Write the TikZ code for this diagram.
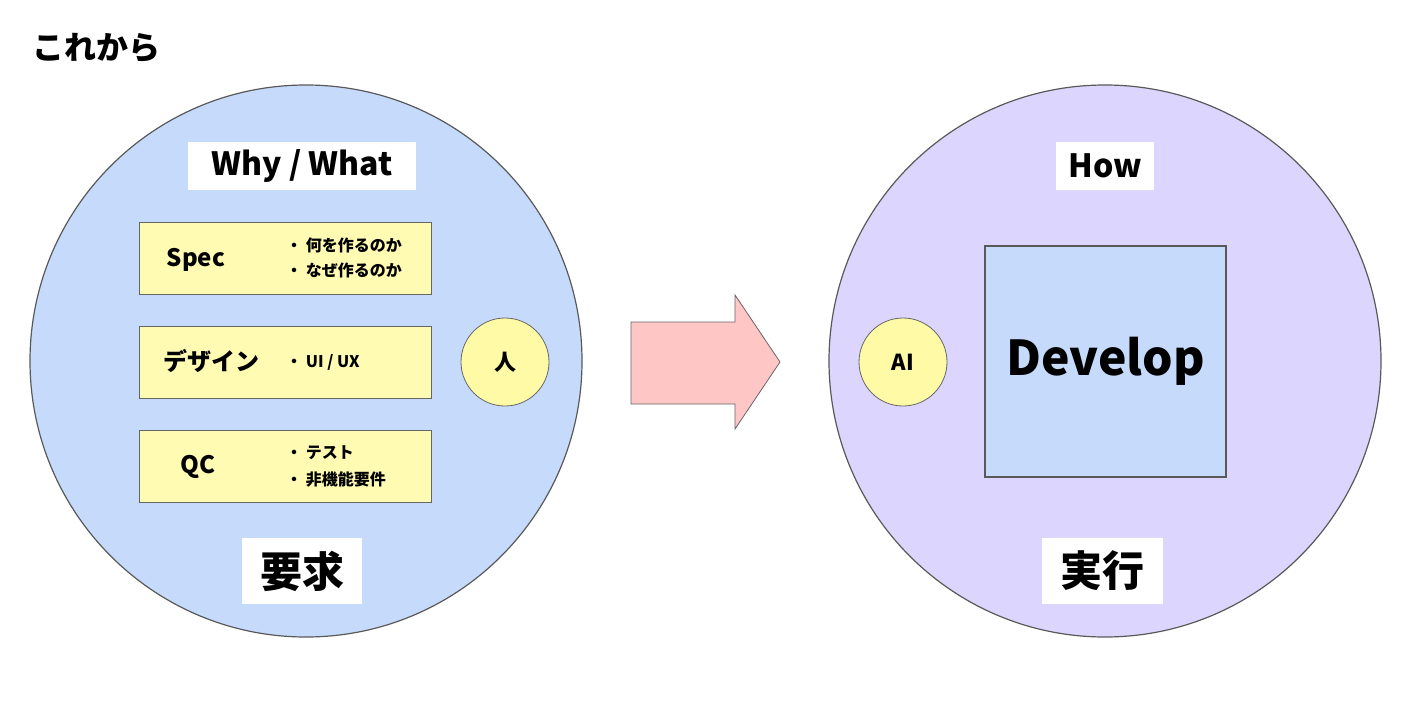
\documentclass[tikz,border=0pt]{standalone}
\usepackage{fontspec}
\setmainfont{Noto Sans CJK JP}
\begin{document}
\begin{tikzpicture}[x=1pt,y=-1pt,
  big/.style={circle,draw=black!65,line width=1.2pt,minimum size=552pt,inner sep=0},
  lbl/.style={fill=white,inner sep=0,font=\bfseries},
  ybox/.style={draw=black!60,fill=yellow!30!white,line width=0.8pt,minimum width=292pt,minimum height=72pt,inner sep=0},
  small/.style={circle,draw=black!60,fill=yellow!35!white,line width=0.8pt,minimum size=88pt,inner sep=0,font=\fontsize{22}{26}\bfseries\selectfont},
  bul/.style={anchor=west,font=\fontsize{16}{19}\bfseries\selectfont,inner sep=0}]
\useasboundingbox (0,0) rectangle (1426,701);
\fill[white] (0,0) rectangle (1426,701);
\node[anchor=west,font=\fontsize{32}{38}\bfseries\selectfont,inner sep=0] (title) at (32,48) {これから};
\node[big,fill={rgb,255:red,198;green,219;blue,252}] (L) at (306,361) {};
\node[big,fill={rgb,255:red,220;green,214;blue,254}] (R) at (1105,361) {};
\node[lbl,minimum width=228pt,minimum height=48pt,font=\fontsize{32}{38}\bfseries\selectfont] (why) at (302,166) {Why / What};
\node[ybox] (b1) at (285,258) {};
\node[ybox] (b2) at (285,362) {};
\node[ybox] (b3) at (285,466) {};
\node[font=\fontsize{24}{28}\bfseries\selectfont] (spec) at (196,260) {Spec};
\node[bul] (s1) at (286,245) {・ 何を作るのか};
\node[bul] (s2) at (286,270) {・ なぜ作るのか};
\node[font=\fontsize{24}{28}\bfseries\selectfont] (des) at (211,361) {デザイン};
\node[bul] (d1) at (286,362) {・ UI / UX};
\node[font=\fontsize{24}{28}\bfseries\selectfont] (qc) at (198,467) {QC};
\node[bul] (q1) at (286,453) {・ テスト};
\node[bul] (q2) at (286,479) {・ 非機能要件};
\node[small] (hito) at (505,362) {人};
\node[lbl,minimum width=120pt,minimum height=66pt,font=\fontsize{42}{48}\bfseries\selectfont] (yk) at (302,571) {要求};
\draw[draw=black!60,line width=0.8pt,fill={rgb,255:red,255;green,198;blue,198}]
  (631,322) -- (735,322) -- (735,295) -- (780,362) -- (735,429) -- (735,404) -- (631,404) -- cycle;
\node[lbl,minimum width=98pt,minimum height=48pt,font=\fontsize{32}{38}\bfseries\selectfont] (how) at (1105,166) {How};
\node[small] (ai) at (903,362) {AI};
\node[draw=black!65,line width=1.2pt,fill={rgb,255:red,198;green,219;blue,252},minimum width=241pt,minimum height=231pt,inner sep=0,font=\fontsize{48}{56}\bfseries\selectfont] (dev) at (1105.5,361.5) {Develop};
\node[lbl,minimum width=121pt,minimum height=66pt,font=\fontsize{42}{48}\bfseries\selectfont] (jk) at (1102,571) {実行};
\end{tikzpicture}
\end{document}
